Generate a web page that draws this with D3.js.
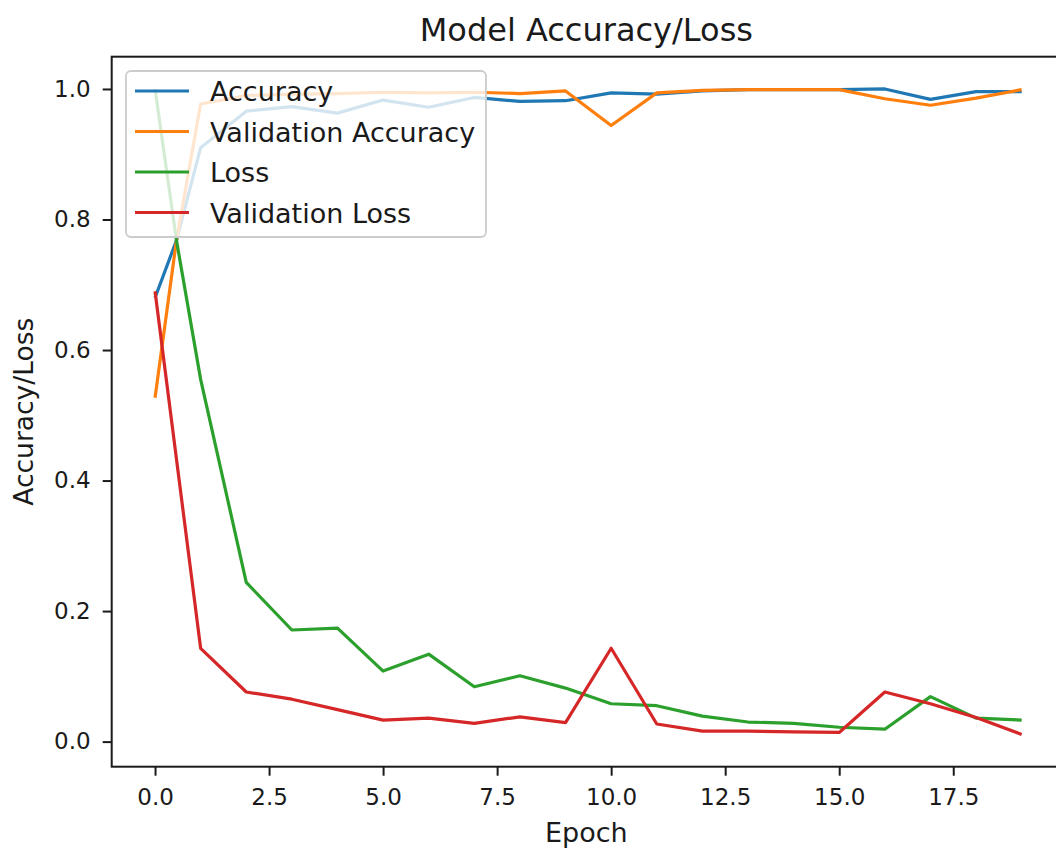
<!DOCTYPE html>
<html>
<head>
<meta charset="utf-8">
<script src="https://cdn.jsdelivr.net/npm/d3@7"></script>
<style>
  body { margin: 0; background: #fff; }
  text { font-family: "DejaVu Sans", sans-serif; fill: #1a1a1a; }
</style>
</head>
<body>
<svg width="1056" height="848"></svg>
<script>
// values
const epochs = [0, 0.47, 1, 2, 3, 4, 5, 6, 7, 8, 9, 10, 11, 12, 13, 14, 15, 16, 17, 18, 19];
const accuracy = [0.68, 0.768, 0.91, 0.966, 0.973, 0.963, 0.983, 0.972, 0.987, 0.981, 0.982, 0.994, 0.992, 0.997, 0.999, 0.999, 0.999, 1.0, 0.984, 0.996, 0.996];
const valAccuracy = [0.527, 0.768, 0.977, 0.99, 0.992, 0.993, 0.995, 0.994, 0.995, 0.993, 0.997, 0.944, 0.994, 0.998, 0.999, 0.999, 0.999, 0.985, 0.975, 0.986, 0.999];
const loss = [1.0, 0.768, 0.555, 0.244, 0.171, 0.174, 0.108, 0.134, 0.084, 0.101, 0.082, 0.058, 0.055, 0.039, 0.03, 0.028, 0.022, 0.019, 0.069, 0.036, 0.033];
const valLoss = [0.69, null, 0.143, 0.076, 0.065, 0.049, 0.033, 0.036, 0.028, 0.038, 0.029, 0.143, 0.027, 0.016, 0.016, 0.015, 0.014, 0.076, 0.058, 0.037, 0.011];
const seriesNames = ["Accuracy", "Validation Accuracy", "Loss", "Validation Loss"];
const colors = ["#1f77b4", "#ff7f0e", "#2ca02c", "#d62728"];
const xTicks = [0, 2.5, 5, 7.5, 10, 12.5, 15, 17.5];
const yTicks = [0, 0.2, 0.4, 0.6, 0.8, 1.0];

var svg = d3.select("svg");
var plotLeft = 111.7, plotRight = 1065, plotTop = 56.7, plotBottom = 766.7;

var allSeries = [accuracy, valAccuracy, loss, valLoss];
var allVals = [].concat(...allSeries).filter(v => v != null);

// matplotlib style 5% margins
var xExt = d3.extent(epochs), yExt = d3.extent(allVals);
var xPad = (xExt[1] - xExt[0]) * 0.05, yPad = (yExt[1] - yExt[0]) * 0.05;

var x = d3.scaleLinear().domain([xExt[0] - xPad, xExt[1] + xPad]).range([plotLeft, plotRight]);
var y = d3.scaleLinear().domain([yExt[0] - yPad, yExt[1] + yPad]).range([plotBottom, plotTop]);

svg.append("rect").attr("width", 1056).attr("height", 848).attr("fill", "#fff");

var line = d3.line().x(d => x(d[0])).y(d => y(d[1]));

allSeries.forEach(function(vals, i) {
  var pts = epochs.map((e, j) => [e, vals[j]]).filter(d => d[1] != null);
  svg.append("path")
    .attr("d", line(pts))
    .attr("fill", "none")
    .attr("stroke", colors[i])
    .attr("stroke-width", 3.2)
    .attr("stroke-linejoin", "round");
});

// axes
var xAxis = svg.append("g")
  .attr("transform", "translate(0," + plotBottom + ")")
  .call(d3.axisBottom(x).tickValues(xTicks).tickFormat(d3.format(".1f")).tickSize(9).tickPadding(13));
var yAxis = svg.append("g")
  .attr("transform", "translate(" + plotLeft + ",0)")
  .call(d3.axisLeft(y).tickValues(yTicks).tickFormat(d3.format(".1f")).tickSize(9).tickPadding(12));

[xAxis, yAxis].forEach(function(g) {
  g.select(".domain").remove();
  g.selectAll(".tick line").attr("stroke", "#1a1a1a").attr("stroke-width", 2);
  g.selectAll(".tick text").attr("font-size", 23).attr("font-family", "DejaVu Sans").attr("fill", "#1a1a1a");
});

// spines
svg.append("rect")
  .attr("x", plotLeft).attr("y", plotTop)
  .attr("width", plotRight - plotLeft).attr("height", plotBottom - plotTop)
  .attr("fill", "none").attr("stroke", "#1a1a1a").attr("stroke-width", 2);

// title and labels
svg.append("text")
  .attr("x", (plotLeft + plotRight) / 2 - 2).attr("y", 41)
  .attr("text-anchor", "middle").attr("font-size", 32)
  .text("Model Accuracy/Loss");

svg.append("text")
  .attr("x", (plotLeft + plotRight) / 2 - 2).attr("y", 842)
  .attr("text-anchor", "middle").attr("font-size", 27)
  .text("Epoch");

svg.append("text")
  .attr("transform", "translate(33," + (plotTop + plotBottom) / 2 + ") rotate(-90)")
  .attr("text-anchor", "middle").attr("font-size", 26.5)
  .text("Accuracy/Loss");

// legend
var legend = svg.append("g").attr("transform", "translate(126,71)");
legend.append("rect")
  .attr("width", 360).attr("height", 166).attr("rx", 5)
  .attr("fill", "#fff").attr("fill-opacity", 0.8)
  .attr("stroke", "#cccccc").attr("stroke-width", 1.8);

seriesNames.forEach(function(name, i) {
  var ly = 20 + i * 40.5;
  legend.append("line")
    .attr("x1", 9).attr("x2", 63).attr("y1", ly).attr("y2", ly)
    .attr("stroke", colors[i]).attr("stroke-width", 3.2);
  legend.append("text")
    .attr("x", 84).attr("y", ly + 10)
    .attr("font-size", 27)
    .text(name);
});
</script>
</body>
</html>
